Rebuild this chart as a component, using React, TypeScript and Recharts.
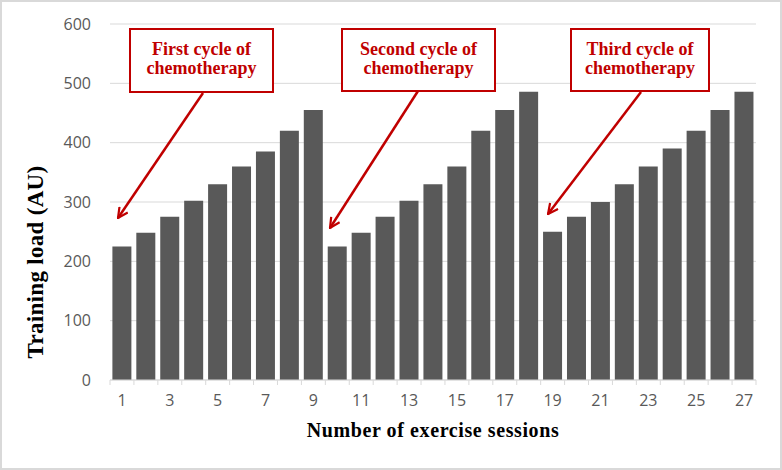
import React from "react";
import { BarChart, Bar, XAxis, YAxis, CartesianGrid } from "recharts";

// sessions 1..27
const SESSIONS = [
  "1", "2", "3", "4", "5", "6", "7", "8", "9",
  "10", "11", "12", "13", "14", "15", "16", "17", "18",
  "19", "20", "21", "22", "23", "24", "25", "26", "27",
];
// training load per session, grouped by chemo cycle
const CYCLE_1 = [225, 248, 275, 302, 330, 360, 385, 420, 455];
const CYCLE_2 = [225, 248, 275, 302, 330, 360, 420, 455, 486];
const CYCLE_3 = [250, 275, 300, 330, 360, 390, 420, 455, 486];
const Y_TICKS = [0, 100, 200, 300, 400, 500, 600];

const LOAD = [...CYCLE_1, ...CYCLE_2, ...CYCLE_3];
const data = SESSIONS.map((s, i) => ({ session: s, load: LOAD[i] }));

const W = 782;
const H = 470;
const MARGIN = { top: 24, right: 26, bottom: 60, left: 50 };
const Y_AXIS_W = 60;
const PLOT_W = W - MARGIN.left - MARGIN.right - Y_AXIS_W;
const BAND = PLOT_W / SESSIONS.length;

const GRID = "#d9d9d9";
const TEXT = "#595959";
const RED = "#c00000";
const TICK_FONT = "'Open Sans', sans-serif";
const SERIF = "'Liberation Serif', 'Times New Roman', serif";

function SessionTick(props: any) {
  const { x, y, index } = props;
  const left = x - BAND / 2;
  const last = index === SESSIONS.length - 1;
  return (
    <g>
      <line x1={left} x2={left} y1={y} y2={y + 5} stroke={GRID} />
      {last && <line x1={x + BAND / 2} x2={x + BAND / 2} y1={y} y2={y + 5} stroke={GRID} />}
      {index % 2 === 0 && (
        <text x={x} y={y + 26} textAnchor="middle" fill={TEXT} fontSize={16} fontFamily={TICK_FONT}>
          {props.payload.value}
        </text>
      )}
    </g>
  );
}

const notes = [
  { box: [130, 29, 143, 63], lines: ["First cycle of", "chemotherapy"], from: [203, 93], to: [118, 218] },
  { box: [342, 29, 153, 62], lines: ["Second cycle of", "chemotherapy"], from: [418, 91], to: [330, 228] },
  { box: [571, 29, 138, 62], lines: ["Third cycle of", "chemotherapy"], from: [641, 92], to: [548, 214] },
];

export default function App() {
  return (
    <div style={{ position: "fixed", top: 0, left: 0, width: W, height: H, background: "#fff" }}>
      <BarChart width={W} height={H} data={data} margin={MARGIN} barCategoryGap="10%">
        <CartesianGrid vertical={false} stroke={GRID} />
        <XAxis
          dataKey="session"
          interval={0}
          stroke={GRID}
          tickSize={0}
          tickMargin={0}
          tickLine={false}
          height={30}
          tick={<SessionTick />}
        />
        <YAxis
          width={Y_AXIS_W}
          domain={[0, 600]}
          ticks={Y_TICKS}
          axisLine={false}
          tickLine={false}
          tickSize={0}
          tickMargin={19}
          tick={{ fill: TEXT, fontSize: 16, fontFamily: TICK_FONT }}
        />
        <Bar dataKey="load" fill="#595959" isAnimationActive={false} />
      </BarChart>

      <svg width={W} height={H} style={{ position: "absolute", top: 0, left: 0, pointerEvents: "none" }}>
        <defs>
          <marker id="head" viewBox="0 0 12 12" refX="11" refY="6" markerWidth="12" markerHeight="12" markerUnits="userSpaceOnUse" orient="auto">
            <path d="M1,1 L11,6 L1,11" fill="none" stroke={RED} strokeWidth={2.2} />
          </marker>
        </defs>
        {notes.map((n, i) => (
          <g key={i}>
            <line x1={n.from[0]} y1={n.from[1]} x2={n.to[0]} y2={n.to[1]} stroke={RED} strokeWidth={2.5} markerEnd="url(#head)" />
            <rect x={n.box[0]} y={n.box[1]} width={n.box[2]} height={n.box[3]} fill="#fff" stroke={RED} strokeWidth={2} />
            {n.lines.map((l, j) => (
              <text
                key={j}
                x={n.box[0] + n.box[2] / 2}
                y={n.box[1] + 26 + j * 19}
                textAnchor="middle"
                fill={RED}
                fontSize={18}
                fontWeight="bold"
                fontFamily={SERIF}
              >
                {l}
              </text>
            ))}
          </g>
        ))}
        <text x={433} y={437} textAnchor="middle" fontSize={20} letterSpacing={0.6} fontWeight="bold" fontFamily={SERIF} fill="#000">
          Number of exercise sessions
        </text>
        <text
          x={0}
          y={0}
          transform="translate(43,262) rotate(-90)"
          textAnchor="middle"
          fontSize={23}
          letterSpacing={0.3}
          fontWeight="bold"
          fontFamily={SERIF}
          fill="#000"
        >
          Training load (AU)
        </text>
      </svg>
      <div style={{ position: "absolute", inset: 0, border: "2px solid #d9d9d9", pointerEvents: "none" }} />
    </div>
  );
}
